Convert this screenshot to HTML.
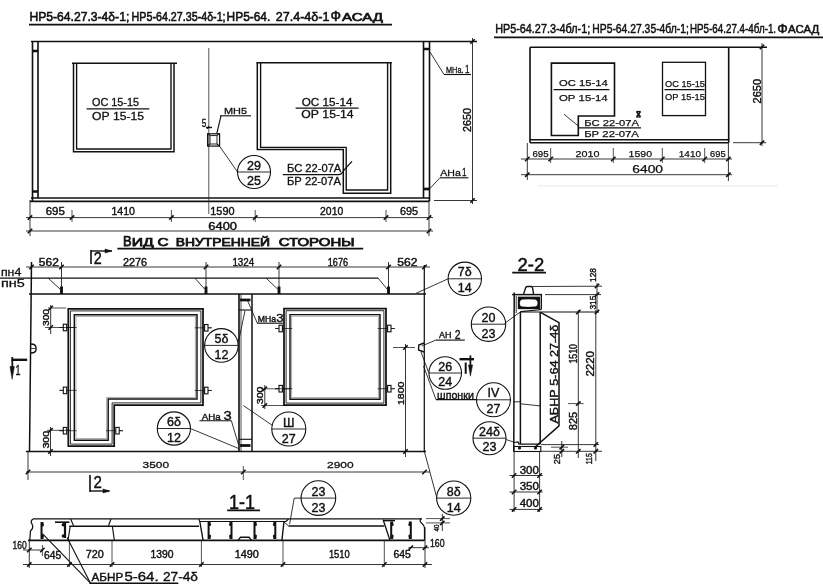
<!DOCTYPE html><html><head><meta charset="utf-8"><style>
html,body{margin:0;padding:0;background:#fff;}
svg{display:block;will-change:transform;}
text{font-family:"Liberation Sans",sans-serif;fill:#111;stroke:#111;stroke-width:0.4px;}
</style></head><body>
<svg width="823" height="588" viewBox="0 0 823 588">
<rect width="823" height="588" fill="#fff"/>
<text x="29.4" y="21.3" font-size="13.6" text-anchor="start" textLength="99.9" lengthAdjust="spacingAndGlyphs" style="stroke-width:0.6px">НР5-64.27.3-4δ-1;</text>
<text x="131.6" y="21.3" font-size="13.6" text-anchor="start" textLength="94.0" lengthAdjust="spacingAndGlyphs" style="stroke-width:0.6px">НР5-64.27.35-4δ-1;</text>
<text x="226.6" y="21.3" font-size="13.6" text-anchor="start" textLength="43.70000000000002" lengthAdjust="spacingAndGlyphs" style="stroke-width:0.6px">НР5-64.</text>
<text x="275.8" y="21.3" font-size="13.6" text-anchor="start" textLength="53.599999999999966" lengthAdjust="spacingAndGlyphs" style="stroke-width:0.6px">27.4-4δ-1</text>
<text x="330.5" y="21.3" font-size="14" text-anchor="start" textLength="10.5" lengthAdjust="spacingAndGlyphs" style="stroke-width:0.6px">Ф</text>
<text x="342" y="21.3" font-size="10.5" text-anchor="start" textLength="41" lengthAdjust="spacingAndGlyphs" style="stroke-width:0.6px">АСАД</text>
<line x1="29" y1="24.6" x2="392" y2="24.6" stroke="#111" stroke-width="1.75"/>
<line x1="31" y1="41.5" x2="477" y2="41.5" stroke="#111" stroke-width="1.5"/>
<line x1="32.5" y1="41.5" x2="32.5" y2="201.4" stroke="#111" stroke-width="1.62"/>
<line x1="38" y1="41.5" x2="38" y2="198" stroke="#111" stroke-width="1.62"/>
<line x1="32.5" y1="51" x2="38" y2="51" stroke="#111" stroke-width="2.5"/>
<line x1="32.5" y1="191.5" x2="38" y2="191.5" stroke="#111" stroke-width="2.5"/>
<line x1="423.5" y1="41.5" x2="423.5" y2="198" stroke="#111" stroke-width="1.62"/>
<line x1="429.5" y1="41.5" x2="429.5" y2="201.4" stroke="#111" stroke-width="1.62"/>
<line x1="423.5" y1="49" x2="429.5" y2="49" stroke="#111" stroke-width="2.5"/>
<line x1="423.5" y1="189" x2="429.5" y2="189" stroke="#111" stroke-width="2.75"/>
<line x1="31" y1="198" x2="429" y2="198" stroke="#111" stroke-width="1.5"/>
<line x1="30" y1="201.4" x2="429" y2="201.4" stroke="#111" stroke-width="1.62"/>
<line x1="434" y1="200.5" x2="477" y2="200.5" stroke="#111" stroke-width="0.84"/>
<line x1="72" y1="63.3" x2="177" y2="63.3" stroke="#111" stroke-width="1.5"/>
<path d="M73.5,63.3 L73.5,151.7 L174,151.7 L174,63.3" stroke="#111" stroke-width="1.5" fill="none"/>
<path d="M76.6,63.3 L76.6,149 L171,149 L171,63.3" stroke="#111" stroke-width="1.38" fill="none"/>
<text x="92" y="105.6" font-size="10.4" text-anchor="start" textLength="47" lengthAdjust="spacingAndGlyphs" style="stroke-width:0.3px">ОС 15-15</text>
<line x1="86.6" y1="108.8" x2="149.3" y2="108.8" stroke="#111" stroke-width="1.25"/>
<text x="92" y="119.5" font-size="10.4" text-anchor="start" textLength="52" lengthAdjust="spacingAndGlyphs" style="stroke-width:0.3px">ОР 15-15</text>
<line x1="256.4" y1="62.7" x2="391.8" y2="62.7" stroke="#111" stroke-width="1.5"/>
<path d="M257.3,62.7 L257.3,149.6 L343.3,149.6 L343.3,193.3 L390.7,193.3 L390.7,62.7" stroke="#111" stroke-width="1.5" fill="none"/>
<path d="M260.6,62.7 L260.6,147.4 L346.2,147.4 L346.2,190 L387.6,190 L387.6,62.7" stroke="#111" stroke-width="1.38" fill="none"/>
<text x="301.8" y="106.3" font-size="10.4" text-anchor="start" textLength="50.6" lengthAdjust="spacingAndGlyphs" style="stroke-width:0.3px">ОС 15-14</text>
<line x1="295.6" y1="108.2" x2="358.6" y2="108.2" stroke="#111" stroke-width="1.25"/>
<text x="301.3" y="118.2" font-size="10.4" text-anchor="start" textLength="52.3" lengthAdjust="spacingAndGlyphs" style="stroke-width:0.3px">ОР 15-14</text>
<text x="287" y="171.5" font-size="10.4" text-anchor="start" textLength="54.3" lengthAdjust="spacingAndGlyphs" style="stroke-width:0.3px">БС 22-07А</text>
<path d="M282.8,174.7 L338.5,174.7 Q342,174.5 344,170 L352,161.4" stroke="#111" stroke-width="1.25" fill="none"/>
<text x="287" y="184.5" font-size="10.4" text-anchor="start" textLength="54" lengthAdjust="spacingAndGlyphs" style="stroke-width:0.3px">БР 22-07А</text>
<line x1="208.8" y1="48" x2="208.8" y2="214" stroke="#333" stroke-width="0.84"/>
<rect x="207.6" y="133.8" width="12" height="12.3" stroke="#111" stroke-width="1.2" fill="none"/>
<rect x="210" y="135.6" width="7" height="8.4" stroke="#111" stroke-width="0.9" fill="none"/>
<line x1="207.6" y1="133.8" x2="210" y2="135.3" stroke="#111" stroke-width="1.12"/>
<line x1="219.6" y1="133.8" x2="217" y2="135.3" stroke="#111" stroke-width="1.12"/>
<line x1="207.6" y1="146.1" x2="210" y2="144" stroke="#111" stroke-width="1.12"/>
<line x1="219.6" y1="146.1" x2="217" y2="144" stroke="#111" stroke-width="1.12"/>
<text x="201.8" y="127" font-size="11.5" text-anchor="start" textLength="4.6" lengthAdjust="spacingAndGlyphs">5</text>
<line x1="206" y1="127.5" x2="212" y2="127.5" stroke="#111" stroke-width="1.38"/>
<line x1="207" y1="129" x2="209" y2="126" stroke="#111" stroke-width="1.12"/>
<text x="224" y="114.3" font-size="9.5" text-anchor="start" textLength="23" lengthAdjust="spacingAndGlyphs" style="stroke-width:0.3px">МН5</text>
<line x1="220" y1="115.8" x2="251" y2="115.8" stroke="#111" stroke-width="1.12"/>
<line x1="221" y1="115.8" x2="216.8" y2="133.5" stroke="#111" stroke-width="1.12"/>
<circle cx="254" cy="172" r="16.5" stroke="#111" stroke-width="1.1" fill="none"/>
<line x1="237.5" y1="172" x2="270.5" y2="172" stroke="#111" stroke-width="0.89"/>
<text x="254" y="169.5" font-size="12.5" text-anchor="middle">29</text>
<text x="254" y="185.0" font-size="12.5" text-anchor="middle">25</text>
<line x1="219.8" y1="146.5" x2="237.5" y2="172" stroke="#111" stroke-width="0.84"/>
<text x="446" y="73" font-size="8.6" text-anchor="start" textLength="17.5" lengthAdjust="spacingAndGlyphs" style="stroke-width:0.3px">МНа.</text>
<text x="465" y="73" font-size="11.5" text-anchor="start" textLength="4.5" lengthAdjust="spacingAndGlyphs" style="stroke-width:0.3px">1</text>
<line x1="444" y1="74.5" x2="471" y2="74.5" stroke="#111" stroke-width="1.12"/>
<line x1="430" y1="52" x2="444" y2="74.5" stroke="#111" stroke-width="0.84"/>
<text x="440.3" y="175.6" font-size="9.3" text-anchor="start" textLength="20.5" lengthAdjust="spacingAndGlyphs" style="stroke-width:0.3px">АНа</text>
<text x="462" y="175.6" font-size="11.5" text-anchor="start" textLength="4.5" lengthAdjust="spacingAndGlyphs" style="stroke-width:0.3px">1</text>
<line x1="439.9" y1="177.8" x2="468.5" y2="177.8" stroke="#111" stroke-width="1.12"/>
<line x1="428.5" y1="190" x2="439.9" y2="177.8" stroke="#111" stroke-width="0.84"/>
<line x1="472.5" y1="38" x2="472.5" y2="204" stroke="#111" stroke-width="0.84"/>
<line x1="470.3" y1="43.7" x2="474.7" y2="39.3" stroke="#111" stroke-width="1.62"/>
<line x1="470.3" y1="202.7" x2="474.7" y2="198.3" stroke="#111" stroke-width="1.62"/>
<text transform="translate(471,132) rotate(-90)" font-size="10" textLength="24" lengthAdjust="spacingAndGlyphs">2650</text>
<line x1="26" y1="217.6" x2="433" y2="217.6" stroke="#111" stroke-width="0.84"/>
<line x1="26" y1="231" x2="433" y2="231" stroke="#111" stroke-width="0.84"/>
<line x1="30" y1="200" x2="30" y2="236" stroke="#111" stroke-width="0.84"/>
<line x1="429" y1="200" x2="429" y2="236" stroke="#111" stroke-width="0.84"/>
<line x1="72" y1="210" x2="72" y2="222" stroke="#111" stroke-width="0.73"/>
<line x1="171.4" y1="210" x2="171.4" y2="222" stroke="#111" stroke-width="0.73"/>
<line x1="255.2" y1="210" x2="255.2" y2="222" stroke="#111" stroke-width="0.73"/>
<line x1="386" y1="210" x2="386" y2="222" stroke="#111" stroke-width="0.73"/>
<line x1="27.8" y1="219.79999999999998" x2="32.2" y2="215.4" stroke="#111" stroke-width="1.62"/>
<line x1="69.8" y1="219.79999999999998" x2="74.2" y2="215.4" stroke="#111" stroke-width="1.62"/>
<line x1="169.20000000000002" y1="219.79999999999998" x2="173.6" y2="215.4" stroke="#111" stroke-width="1.62"/>
<line x1="253.0" y1="219.79999999999998" x2="257.4" y2="215.4" stroke="#111" stroke-width="1.62"/>
<line x1="383.8" y1="219.79999999999998" x2="388.2" y2="215.4" stroke="#111" stroke-width="1.62"/>
<line x1="426.8" y1="219.79999999999998" x2="431.2" y2="215.4" stroke="#111" stroke-width="1.62"/>
<line x1="27.8" y1="233.2" x2="32.2" y2="228.8" stroke="#111" stroke-width="1.62"/>
<line x1="426.8" y1="233.2" x2="431.2" y2="228.8" stroke="#111" stroke-width="1.62"/>
<text x="45.7" y="214.9" font-size="10.8" text-anchor="start" textLength="19.099999999999994" lengthAdjust="spacingAndGlyphs">695</text>
<text x="111.5" y="214.9" font-size="10.8" text-anchor="start" textLength="23.5" lengthAdjust="spacingAndGlyphs">1410</text>
<text x="210.3" y="214.9" font-size="10.8" text-anchor="start" textLength="24.299999999999983" lengthAdjust="spacingAndGlyphs">1590</text>
<text x="320.1" y="214.9" font-size="10.8" text-anchor="start" textLength="23.099999999999966" lengthAdjust="spacingAndGlyphs">2010</text>
<text x="400" y="214.9" font-size="10.8" text-anchor="start" textLength="18" lengthAdjust="spacingAndGlyphs">695</text>
<text x="208.3" y="230.2" font-size="10.2" text-anchor="start" textLength="28.7" lengthAdjust="spacingAndGlyphs">6400</text>
<text x="495.2" y="32.6" font-size="13" text-anchor="start" textLength="95.00000000000006" lengthAdjust="spacingAndGlyphs" style="stroke-width:0.5px">НР5-64.27.3-4бл-1;</text>
<text x="592.3" y="32.6" font-size="13" text-anchor="start" textLength="96.60000000000002" lengthAdjust="spacingAndGlyphs" style="stroke-width:0.5px">НР5-64.27.35-4бл-1;</text>
<text x="690" y="32.6" font-size="13" text-anchor="start" textLength="86.10000000000002" lengthAdjust="spacingAndGlyphs" style="stroke-width:0.5px">НР5-64.27.4-4бл-1.</text>
<text x="777.2" y="32.6" font-size="13.5" text-anchor="start" textLength="10.5" lengthAdjust="spacingAndGlyphs" style="stroke-width:0.5px">Ф</text>
<text x="788" y="32.6" font-size="10.2" text-anchor="start" textLength="31.2" lengthAdjust="spacingAndGlyphs" style="stroke-width:0.5px">АСАД</text>
<line x1="494" y1="37.4" x2="823" y2="37.4" stroke="#111" stroke-width="1.75"/>
<line x1="530" y1="47.3" x2="767" y2="47.3" stroke="#111" stroke-width="1.5"/>
<line x1="530" y1="47.3" x2="530" y2="142.7" stroke="#111" stroke-width="1.62"/>
<line x1="728.7" y1="47" x2="728.7" y2="142.7" stroke="#111" stroke-width="1.62"/>
<line x1="530" y1="139.8" x2="728.7" y2="139.8" stroke="#111" stroke-width="1.38"/>
<line x1="530" y1="142.7" x2="728.7" y2="142.7" stroke="#111" stroke-width="1.62"/>
<line x1="733" y1="142.7" x2="766" y2="142.7" stroke="#111" stroke-width="0.84"/>
<path d="M551.4,63.1 L614.5,63.1 L614.5,116 L578.3,116 L578.3,135.5 L551.4,135.5 Z" stroke="#111" stroke-width="1.62" fill="none"/>
<text x="559" y="86.4" font-size="9.3" text-anchor="start" textLength="48.7" lengthAdjust="spacingAndGlyphs" style="stroke-width:0.25px">ОС 15-14</text>
<line x1="553.6" y1="89.5" x2="609.4" y2="89.5" stroke="#111" stroke-width="1.25"/>
<text x="559" y="100.9" font-size="9.3" text-anchor="start" textLength="48.7" lengthAdjust="spacingAndGlyphs" style="stroke-width:0.25px">ОР 15-14</text>
<text x="584.2" y="126" font-size="9.3" text-anchor="start" textLength="54.7" lengthAdjust="spacingAndGlyphs" style="stroke-width:0.25px">БС 22-07А</text>
<line x1="578.3" y1="127.8" x2="641" y2="127.8" stroke="#111" stroke-width="1.25"/>
<text x="584.2" y="137" font-size="9.3" text-anchor="start" textLength="54.7" lengthAdjust="spacingAndGlyphs" style="stroke-width:0.25px">БР 22-07А</text>
<line x1="564" y1="114.2" x2="578.3" y2="126" stroke="#111" stroke-width="0.84"/>
<line x1="636.5" y1="111.5" x2="640.5" y2="117" stroke="#111" stroke-width="1.5"/>
<line x1="640.5" y1="111.5" x2="636.5" y2="117" stroke="#111" stroke-width="1.5"/>
<line x1="636.5" y1="111.5" x2="640.5" y2="111.5" stroke="#111" stroke-width="1.25"/>
<line x1="636.5" y1="117" x2="640.5" y2="117" stroke="#111" stroke-width="1.25"/>
<rect x="662.5" y="62.3" width="43" height="53.3" stroke="#111" stroke-width="1.3" fill="none"/>
<text x="665" y="86.7" font-size="9.3" text-anchor="start" textLength="40" lengthAdjust="spacingAndGlyphs" style="stroke-width:0.25px">ОС 15-15</text>
<line x1="664.5" y1="89.6" x2="704.5" y2="89.6" stroke="#111" stroke-width="1.25"/>
<text x="665" y="100" font-size="9.3" text-anchor="start" textLength="40" lengthAdjust="spacingAndGlyphs" style="stroke-width:0.25px">ОР 15-15</text>
<line x1="762" y1="43" x2="762" y2="146" stroke="#111" stroke-width="0.84"/>
<line x1="759.8" y1="49.2" x2="764.2" y2="44.8" stroke="#111" stroke-width="1.62"/>
<line x1="759.8" y1="144.89999999999998" x2="764.2" y2="140.5" stroke="#111" stroke-width="1.62"/>
<text transform="translate(760.5,103.4) rotate(-90)" font-size="10" textLength="24.4" lengthAdjust="spacingAndGlyphs">2650</text>
<line x1="521" y1="159" x2="732" y2="159" stroke="#111" stroke-width="0.84"/>
<line x1="521" y1="174.7" x2="732" y2="174.7" stroke="#111" stroke-width="0.84"/>
<line x1="527.3" y1="143" x2="527.3" y2="180" stroke="#111" stroke-width="0.84"/>
<line x1="728.4" y1="143" x2="728.4" y2="181" stroke="#111" stroke-width="0.84"/>
<line x1="550.7" y1="148" x2="550.7" y2="163" stroke="#111" stroke-width="0.73"/>
<line x1="613.3" y1="148" x2="613.3" y2="163" stroke="#111" stroke-width="0.73"/>
<line x1="662.3" y1="148" x2="662.3" y2="163" stroke="#111" stroke-width="0.73"/>
<line x1="704.7" y1="148" x2="704.7" y2="163" stroke="#111" stroke-width="0.73"/>
<line x1="525.0999999999999" y1="161.2" x2="529.5" y2="156.8" stroke="#111" stroke-width="1.62"/>
<line x1="548.5" y1="161.2" x2="552.9000000000001" y2="156.8" stroke="#111" stroke-width="1.62"/>
<line x1="611.0999999999999" y1="161.2" x2="615.5" y2="156.8" stroke="#111" stroke-width="1.62"/>
<line x1="660.0999999999999" y1="161.2" x2="664.5" y2="156.8" stroke="#111" stroke-width="1.62"/>
<line x1="702.5" y1="161.2" x2="706.9000000000001" y2="156.8" stroke="#111" stroke-width="1.62"/>
<line x1="726.1999999999999" y1="161.2" x2="730.6" y2="156.8" stroke="#111" stroke-width="1.62"/>
<line x1="525.0999999999999" y1="176.89999999999998" x2="529.5" y2="172.5" stroke="#111" stroke-width="1.62"/>
<line x1="726.1999999999999" y1="176.89999999999998" x2="730.6" y2="172.5" stroke="#111" stroke-width="1.62"/>
<text x="532.4" y="157" font-size="9.6" text-anchor="start" textLength="16.200000000000045" lengthAdjust="spacingAndGlyphs" style="stroke-width:0.25px">695</text>
<text x="575.5" y="157" font-size="9.6" text-anchor="start" textLength="24.0" lengthAdjust="spacingAndGlyphs" style="stroke-width:0.25px">2010</text>
<text x="628.6" y="157" font-size="9.6" text-anchor="start" textLength="23.399999999999977" lengthAdjust="spacingAndGlyphs" style="stroke-width:0.25px">1590</text>
<text x="678.8" y="157" font-size="9.6" text-anchor="start" textLength="22.200000000000045" lengthAdjust="spacingAndGlyphs" style="stroke-width:0.25px">1410</text>
<text x="710" y="157" font-size="9.6" text-anchor="start" textLength="15.600000000000023" lengthAdjust="spacingAndGlyphs" style="stroke-width:0.25px">695</text>
<text x="632.3" y="173.3" font-size="10.2" text-anchor="start" textLength="30.7" lengthAdjust="spacingAndGlyphs" style="stroke-width:0.25px">6400</text>
<line x1="538" y1="186" x2="778" y2="186" stroke="#e4e4e4" stroke-width="0.84"/>
<text x="122.9" y="245.5" font-size="15" text-anchor="start" textLength="8.6" lengthAdjust="spacingAndGlyphs" style="stroke-width:0.75px">В</text>
<text x="131.8" y="245.5" font-size="11.2" text-anchor="start" textLength="21.9" lengthAdjust="spacingAndGlyphs" style="stroke-width:0.75px">ИД</text>
<text x="157.6" y="245.5" font-size="11.2" text-anchor="start" textLength="11.1" lengthAdjust="spacingAndGlyphs" style="stroke-width:0.75px">С</text>
<text x="175.8" y="245.5" font-size="11.2" text-anchor="start" textLength="94.2" lengthAdjust="spacingAndGlyphs" style="stroke-width:0.75px">ВНУТРЕННЕЙ</text>
<text x="278.7" y="245.5" font-size="11.2" text-anchor="start" textLength="75.8" lengthAdjust="spacingAndGlyphs" style="stroke-width:0.75px">СТОРОНЫ</text>
<line x1="117.4" y1="248.5" x2="363.2" y2="248.5" stroke="#111" stroke-width="1.75"/>
<line x1="91" y1="250" x2="91" y2="264" stroke="#111" stroke-width="1.62"/>
<line x1="91" y1="251" x2="112" y2="251" stroke="#111" stroke-width="1.38"/>
<path d="M112,251 L105,249 L105,253 Z" stroke="#111" stroke-width="0.53" fill="#111"/>
<text x="93.8" y="264" font-size="17" text-anchor="start" textLength="8" lengthAdjust="spacingAndGlyphs">2</text>
<line x1="26" y1="267" x2="430" y2="267" stroke="#111" stroke-width="0.84"/>
<line x1="29.3" y1="269.2" x2="33.7" y2="264.8" stroke="#111" stroke-width="1.62"/>
<line x1="59.3" y1="269.2" x2="63.7" y2="264.8" stroke="#111" stroke-width="1.62"/>
<line x1="203.8" y1="269.2" x2="208.2" y2="264.8" stroke="#111" stroke-width="1.62"/>
<line x1="276.8" y1="269.2" x2="281.2" y2="264.8" stroke="#111" stroke-width="1.62"/>
<line x1="386.3" y1="269.2" x2="390.7" y2="264.8" stroke="#111" stroke-width="1.62"/>
<line x1="422.3" y1="269.2" x2="426.7" y2="264.8" stroke="#111" stroke-width="1.62"/>
<line x1="61.5" y1="262" x2="61.5" y2="292" stroke="#111" stroke-width="0.84"/>
<line x1="206" y1="262" x2="206" y2="292" stroke="#111" stroke-width="0.84"/>
<line x1="279" y1="262" x2="279" y2="292" stroke="#111" stroke-width="0.84"/>
<line x1="388.5" y1="262" x2="388.5" y2="292" stroke="#111" stroke-width="0.84"/>
<text x="38.8" y="265.5" font-size="10" text-anchor="start" textLength="20.0" lengthAdjust="spacingAndGlyphs">562</text>
<text x="123" y="265.5" font-size="10" text-anchor="start" textLength="24" lengthAdjust="spacingAndGlyphs">2276</text>
<text x="232.4" y="265.5" font-size="10" text-anchor="start" textLength="21.900000000000006" lengthAdjust="spacingAndGlyphs">1324</text>
<text x="327.8" y="265.5" font-size="10" text-anchor="start" textLength="20.19999999999999" lengthAdjust="spacingAndGlyphs">1676</text>
<text x="397.2" y="265.5" font-size="10" text-anchor="start" textLength="20.19999999999999" lengthAdjust="spacingAndGlyphs">562</text>
<text x="0.9" y="276.3" font-size="11.5" text-anchor="start" textLength="20.4" lengthAdjust="spacingAndGlyphs" style="stroke-width:0.3px">пн4</text>
<text x="0.9" y="286.9" font-size="11.5" text-anchor="start" textLength="23.8" lengthAdjust="spacingAndGlyphs" style="stroke-width:0.3px">пн5</text>
<line x1="0" y1="278.1" x2="378" y2="278.1" stroke="#111" stroke-width="1.38"/>
<line x1="48" y1="278" x2="60.0" y2="289" stroke="#111" stroke-width="0.84"/>
<line x1="61.5" y1="286.5" x2="61.5" y2="294" stroke="#111" stroke-width="2.88"/>
<line x1="194.8" y1="278" x2="204.5" y2="289" stroke="#111" stroke-width="0.84"/>
<line x1="206" y1="286.5" x2="206" y2="294" stroke="#111" stroke-width="2.88"/>
<line x1="266" y1="278" x2="277.5" y2="289" stroke="#111" stroke-width="0.84"/>
<line x1="279" y1="286.5" x2="279" y2="294" stroke="#111" stroke-width="2.88"/>
<line x1="378" y1="278" x2="387.0" y2="289" stroke="#111" stroke-width="0.84"/>
<line x1="388.5" y1="286.5" x2="388.5" y2="294" stroke="#111" stroke-width="2.88"/>
<line x1="29" y1="294" x2="426" y2="294" stroke="#111" stroke-width="1.62"/>
<line x1="31.5" y1="262" x2="29.5" y2="452" stroke="#111" stroke-width="1.5"/>
<line x1="424.3" y1="265" x2="424.3" y2="452" stroke="#111" stroke-width="1.25"/>
<line x1="26" y1="451.5" x2="426" y2="451.5" stroke="#111" stroke-width="1.62"/>
<path d="M30.8,344 Q36.5,344 36,348.5 Q36.5,353 30.8,353" stroke="#111" stroke-width="1.38" fill="none"/>
<line x1="31" y1="348.5" x2="36" y2="348.5" stroke="#111" stroke-width="0.73"/>
<line x1="11.5" y1="359.8" x2="27.2" y2="359.8" stroke="#111" stroke-width="2.38"/>
<line x1="12.3" y1="357" x2="12.3" y2="368" stroke="#111" stroke-width="1.75"/>
<path d="M12.1,379.3 L10,366.5 L14.4,366.5 Z" stroke="#111" stroke-width="0.53" fill="#111"/>
<text x="15.5" y="375.3" font-size="15" text-anchor="start" textLength="5" lengthAdjust="spacingAndGlyphs">1</text>
<path d="M68.3,308.8 L203.0,308.8 L203.0,405.0 L114.2,405.0 L114.2,446.2 L68.3,446.2 Z" stroke="#111" stroke-width="1.75" fill="none"/>
<path d="M70.4,310.9 L200.9,310.9 L200.9,402.9 L112.1,402.9 L112.1,444.1 L70.4,444.1 Z" stroke="#111" stroke-width="0.89" fill="none"/>
<path d="M74.3,314.8 L197.0,314.8 L197.0,399.0 L108.2,399.0 L108.2,440.2 L74.3,440.2 Z" stroke="#111" stroke-width="1.44" fill="none"/>
<path d="M75.9,316.4 L195.4,316.4 L195.4,397.4 L106.6,397.4 L106.6,438.6 L75.9,438.6 Z" stroke="#777" stroke-width="0.63" fill="none"/>
<path d="M284.0,308.6 L386.0,308.6 L386.0,405.2 L284.0,405.2 Z" stroke="#111" stroke-width="1.75" fill="none"/>
<path d="M286.1,310.7 L383.9,310.7 L383.9,403.1 L286.1,403.1 Z" stroke="#111" stroke-width="0.89" fill="none"/>
<path d="M290.0,314.6 L380.0,314.6 L380.0,399.2 L290.0,399.2 Z" stroke="#111" stroke-width="1.44" fill="none"/>
<path d="M291.6,316.2 L378.4,316.2 L378.4,397.6 L291.6,397.6 Z" stroke="#777" stroke-width="0.63" fill="none"/>
<line x1="59.5" y1="327.5" x2="76.5" y2="327.5" stroke="#111" stroke-width="0.73"/>
<rect x="63.3" y="324.2" width="3.4000000000000057" height="6.6" stroke="#111" stroke-width="1.1" fill="#fff"/>
<line x1="59.5" y1="327.5" x2="63.3" y2="327.5" stroke="#111" stroke-width="0.73"/>
<line x1="59.5" y1="390.4" x2="76.5" y2="390.4" stroke="#111" stroke-width="0.73"/>
<rect x="63.3" y="387.09999999999997" width="3.4000000000000057" height="6.6" stroke="#111" stroke-width="1.1" fill="#fff"/>
<line x1="59.5" y1="390.4" x2="63.3" y2="390.4" stroke="#111" stroke-width="0.73"/>
<line x1="59.5" y1="430.7" x2="76.5" y2="430.7" stroke="#111" stroke-width="0.73"/>
<rect x="63.3" y="427.4" width="3.4000000000000057" height="6.6" stroke="#111" stroke-width="1.1" fill="#fff"/>
<line x1="59.5" y1="430.7" x2="63.3" y2="430.7" stroke="#111" stroke-width="0.73"/>
<line x1="123" y1="430.7" x2="106" y2="430.7" stroke="#111" stroke-width="0.73"/>
<rect x="115.8" y="427.4" width="3.4000000000000057" height="6.6" stroke="#111" stroke-width="1.1" fill="#fff"/>
<line x1="123" y1="430.7" x2="119.2" y2="430.7" stroke="#111" stroke-width="0.73"/>
<line x1="211.8" y1="327.8" x2="194.8" y2="327.8" stroke="#111" stroke-width="0.73"/>
<rect x="204.60000000000002" y="324.5" width="3.3999999999999773" height="6.6" stroke="#111" stroke-width="1.1" fill="#fff"/>
<line x1="211.8" y1="327.8" x2="208.0" y2="327.8" stroke="#111" stroke-width="0.73"/>
<line x1="211.8" y1="390.5" x2="194.8" y2="390.5" stroke="#111" stroke-width="0.73"/>
<rect x="204.60000000000002" y="387.2" width="3.3999999999999773" height="6.6" stroke="#111" stroke-width="1.1" fill="#fff"/>
<line x1="211.8" y1="390.5" x2="208.0" y2="390.5" stroke="#111" stroke-width="0.73"/>
<line x1="275.2" y1="328.5" x2="292.2" y2="328.5" stroke="#111" stroke-width="0.73"/>
<rect x="279.0" y="325.2" width="3.3999999999999773" height="6.6" stroke="#111" stroke-width="1.1" fill="#fff"/>
<line x1="275.2" y1="328.5" x2="279.0" y2="328.5" stroke="#111" stroke-width="0.73"/>
<line x1="394.8" y1="328.5" x2="377.8" y2="328.5" stroke="#111" stroke-width="0.73"/>
<rect x="387.6" y="325.2" width="3.3999999999999773" height="6.6" stroke="#111" stroke-width="1.1" fill="#fff"/>
<line x1="394.8" y1="328.5" x2="391.0" y2="328.5" stroke="#111" stroke-width="0.73"/>
<line x1="275.2" y1="388.7" x2="292.2" y2="388.7" stroke="#111" stroke-width="0.73"/>
<rect x="279.0" y="385.4" width="3.3999999999999773" height="6.6" stroke="#111" stroke-width="1.1" fill="#fff"/>
<line x1="275.2" y1="388.7" x2="279.0" y2="388.7" stroke="#111" stroke-width="0.73"/>
<line x1="394.8" y1="388.7" x2="377.8" y2="388.7" stroke="#111" stroke-width="0.73"/>
<rect x="387.6" y="385.4" width="3.3999999999999773" height="6.6" stroke="#111" stroke-width="1.1" fill="#fff"/>
<line x1="394.8" y1="388.7" x2="391.0" y2="388.7" stroke="#111" stroke-width="0.73"/>
<line x1="50.7" y1="305" x2="50.7" y2="334" stroke="#111" stroke-width="0.84"/>
<line x1="48.5" y1="310.2" x2="52.900000000000006" y2="305.8" stroke="#111" stroke-width="1.62"/>
<line x1="48.5" y1="329.7" x2="52.900000000000006" y2="325.3" stroke="#111" stroke-width="1.62"/>
<line x1="48" y1="308" x2="66" y2="308" stroke="#111" stroke-width="0.73"/>
<line x1="45" y1="327.5" x2="75" y2="327.5" stroke="#111" stroke-width="0.73"/>
<text transform="translate(49,326) rotate(-90)" font-size="9.5" textLength="17" lengthAdjust="spacingAndGlyphs">300</text>
<line x1="50.5" y1="427" x2="50.5" y2="456" stroke="#111" stroke-width="0.84"/>
<line x1="48.3" y1="432.5" x2="52.7" y2="428.1" stroke="#111" stroke-width="1.62"/>
<line x1="48.3" y1="453.7" x2="52.7" y2="449.3" stroke="#111" stroke-width="1.62"/>
<line x1="47" y1="430.3" x2="70" y2="430.3" stroke="#111" stroke-width="0.73"/>
<text transform="translate(48.5,448.6) rotate(-90)" font-size="9.5" textLength="17.9" lengthAdjust="spacingAndGlyphs">300</text>
<line x1="264.8" y1="385" x2="264.8" y2="409" stroke="#111" stroke-width="0.84"/>
<line x1="262.6" y1="391.0" x2="267.0" y2="386.6" stroke="#111" stroke-width="1.62"/>
<line x1="262.6" y1="407.7" x2="267.0" y2="403.3" stroke="#111" stroke-width="1.62"/>
<line x1="261" y1="388.8" x2="290" y2="388.8" stroke="#111" stroke-width="0.73"/>
<line x1="261" y1="405.5" x2="285" y2="405.5" stroke="#111" stroke-width="0.73"/>
<text transform="translate(263.4,404.3) rotate(-90)" font-size="9" textLength="17.9" lengthAdjust="spacingAndGlyphs">300</text>
<line x1="239" y1="294" x2="239" y2="451.5" stroke="#111" stroke-width="1.62"/>
<line x1="241" y1="294" x2="241" y2="451.5" stroke="#111" stroke-width="0.73"/>
<line x1="252" y1="294" x2="252" y2="451.5" stroke="#111" stroke-width="1.5"/>
<line x1="240" y1="300" x2="250.5" y2="300" stroke="#111" stroke-width="2.75"/>
<line x1="239" y1="310" x2="252" y2="310" stroke="#111" stroke-width="1.12"/>
<line x1="239" y1="439.3" x2="252" y2="439.3" stroke="#111" stroke-width="1.12"/>
<line x1="240" y1="445.5" x2="250.5" y2="445.5" stroke="#111" stroke-width="2.75"/>
<line x1="247.5" y1="300.5" x2="257.3" y2="323.2" stroke="#111" stroke-width="0.84"/>
<text x="257.8" y="321.8" font-size="8.5" text-anchor="start" textLength="18.2" lengthAdjust="spacingAndGlyphs">МНа</text>
<text x="276.2" y="321.8" font-size="11.5" text-anchor="start" textLength="7.3" lengthAdjust="spacingAndGlyphs">3</text>
<line x1="257" y1="323.2" x2="283" y2="323.2" stroke="#111" stroke-width="1.12"/>
<circle cx="221.4" cy="345.4" r="16.8" stroke="#111" stroke-width="1.1" fill="none"/>
<line x1="204.6" y1="345.4" x2="238.20000000000002" y2="345.4" stroke="#111" stroke-width="0.89"/>
<text x="221.4" y="342.9" font-size="12.5" text-anchor="middle">5δ</text>
<text x="221.4" y="358.7" font-size="12.5" text-anchor="middle">12</text>
<line x1="238.5" y1="342" x2="245" y2="310.5" stroke="#111" stroke-width="0.84"/>
<text x="201.8" y="419.8" font-size="9.6" text-anchor="start" textLength="18.9" lengthAdjust="spacingAndGlyphs">АНа</text>
<text x="223.4" y="420" font-size="13" text-anchor="start" textLength="8.2" lengthAdjust="spacingAndGlyphs">3</text>
<line x1="199.4" y1="420.8" x2="231.4" y2="420.8" stroke="#111" stroke-width="1.12"/>
<line x1="231.4" y1="420.8" x2="238.6" y2="445" stroke="#111" stroke-width="0.84"/>
<circle cx="173.9" cy="428.5" r="16.6" stroke="#111" stroke-width="1.1" fill="none"/>
<line x1="157.3" y1="428.5" x2="190.5" y2="428.5" stroke="#111" stroke-width="0.89"/>
<text x="173.9" y="426.0" font-size="12.5" text-anchor="middle">6δ</text>
<text x="173.9" y="441.6" font-size="12.5" text-anchor="middle">12</text>
<line x1="190.5" y1="428.5" x2="238.6" y2="448.5" stroke="#111" stroke-width="0.84"/>
<circle cx="288.8" cy="429" r="17" stroke="#111" stroke-width="1.1" fill="none"/>
<line x1="271.8" y1="429" x2="305.8" y2="429" stroke="#111" stroke-width="0.89"/>
<text x="288.8" y="426.5" font-size="12.5" text-anchor="middle">Ш</text>
<text x="288.8" y="442.5" font-size="12.5" text-anchor="middle">27</text>
<line x1="243.3" y1="405.5" x2="272.5" y2="425.5" stroke="#111" stroke-width="0.84"/>
<path d="M424,343 L418.8,345 L418.5,350 L424,352" stroke="#111" stroke-width="1.38" fill="none"/>
<text x="439" y="338.1" font-size="9.5" text-anchor="start" textLength="12.4" lengthAdjust="spacingAndGlyphs">АН</text>
<text x="454.8" y="338.9" font-size="13.5" text-anchor="start" textLength="5.8" lengthAdjust="spacingAndGlyphs">2</text>
<line x1="435.8" y1="340.1" x2="464.8" y2="340.1" stroke="#111" stroke-width="1.12"/>
<line x1="435.8" y1="340.1" x2="421.8" y2="346" stroke="#111" stroke-width="0.84"/>
<line x1="393" y1="347.5" x2="415" y2="347.5" stroke="#111" stroke-width="0.73"/>
<line x1="405.5" y1="344" x2="405.5" y2="457" stroke="#111" stroke-width="0.84"/>
<line x1="403.3" y1="349.7" x2="407.7" y2="345.3" stroke="#111" stroke-width="1.62"/>
<line x1="403.3" y1="453.7" x2="407.7" y2="449.3" stroke="#111" stroke-width="1.62"/>
<text transform="translate(404,405) rotate(-90)" font-size="9.8" textLength="23.5" lengthAdjust="spacingAndGlyphs">1800</text>
<circle cx="464.8" cy="278.8" r="16.7" stroke="#111" stroke-width="1.1" fill="none"/>
<line x1="448.1" y1="278.8" x2="481.5" y2="278.8" stroke="#111" stroke-width="0.89"/>
<text x="464.8" y="276.3" font-size="12.5" text-anchor="middle">7δ</text>
<text x="464.8" y="292.0" font-size="12.5" text-anchor="middle">14</text>
<line x1="448.1" y1="278.8" x2="415.7" y2="293.5" stroke="#111" stroke-width="0.84"/>
<circle cx="445.2" cy="373" r="16.3" stroke="#111" stroke-width="1.1" fill="none"/>
<line x1="428.9" y1="373" x2="461.5" y2="373" stroke="#111" stroke-width="0.89"/>
<text x="445.2" y="370.5" font-size="12.5" text-anchor="middle">26</text>
<text x="445.2" y="385.8" font-size="12.5" text-anchor="middle">24</text>
<line x1="421" y1="352" x2="428.6" y2="372.4" stroke="#111" stroke-width="0.84"/>
<line x1="459.5" y1="359.2" x2="474" y2="359.2" stroke="#111" stroke-width="2.38"/>
<line x1="470.4" y1="355.4" x2="470.4" y2="366" stroke="#111" stroke-width="1.75"/>
<path d="M470.4,376.2 L468.5,364.9 L472.6,364.9 Z" stroke="#111" stroke-width="0.53" fill="#111"/>
<line x1="465.7" y1="362.5" x2="465.7" y2="373.8" stroke="#111" stroke-width="2.0"/>
<text x="437.1" y="398.6" font-size="11" text-anchor="start" textLength="36.8" lengthAdjust="spacingAndGlyphs">шпонки</text>
<line x1="436" y1="399.6" x2="477" y2="399.6" stroke="#111" stroke-width="1.12"/>
<line x1="423.5" y1="366" x2="436" y2="399.6" stroke="#111" stroke-width="0.84"/>
<circle cx="493.5" cy="399.8" r="17" stroke="#111" stroke-width="1.1" fill="none"/>
<line x1="476.5" y1="399.8" x2="510.5" y2="399.8" stroke="#111" stroke-width="0.89"/>
<text x="493.5" y="397.3" font-size="12.5" text-anchor="middle">IV</text>
<text x="493.5" y="413.3" font-size="12.5" text-anchor="middle">27</text>
<circle cx="489.5" cy="438.2" r="16.5" stroke="#111" stroke-width="1.1" fill="none"/>
<line x1="473.0" y1="438.2" x2="506.0" y2="438.2" stroke="#111" stroke-width="0.89"/>
<text x="489.5" y="435.7" font-size="12.5" text-anchor="middle">24δ</text>
<text x="489.5" y="451.2" font-size="12.5" text-anchor="middle">23</text>
<line x1="506" y1="439.5" x2="513" y2="441.8" stroke="#111" stroke-width="0.84"/>
<circle cx="488.5" cy="324.2" r="17.2" stroke="#111" stroke-width="1.1" fill="none"/>
<line x1="471.3" y1="324.2" x2="505.7" y2="324.2" stroke="#111" stroke-width="0.89"/>
<text x="488.5" y="321.7" font-size="12.5" text-anchor="middle">20</text>
<text x="488.5" y="337.9" font-size="12.5" text-anchor="middle">23</text>
<line x1="504.5" y1="323.5" x2="514.6" y2="316" stroke="#111" stroke-width="0.84"/>
<line x1="26" y1="472" x2="430" y2="472" stroke="#111" stroke-width="0.84"/>
<line x1="28" y1="452" x2="28" y2="480" stroke="#111" stroke-width="0.84"/>
<line x1="25.8" y1="474.2" x2="30.2" y2="469.8" stroke="#111" stroke-width="1.62"/>
<line x1="241.10000000000002" y1="474.2" x2="245.5" y2="469.8" stroke="#111" stroke-width="1.62"/>
<line x1="422.3" y1="474.2" x2="426.7" y2="469.8" stroke="#111" stroke-width="1.62"/>
<line x1="243.3" y1="466" x2="243.3" y2="480" stroke="#111" stroke-width="0.73"/>
<text x="142.6" y="467.8" font-size="9.6" text-anchor="start" textLength="26.5" lengthAdjust="spacingAndGlyphs" style="stroke-width:0.3px">3500</text>
<text x="327" y="467.8" font-size="9.6" text-anchor="start" textLength="26.6" lengthAdjust="spacingAndGlyphs" style="stroke-width:0.3px">2900</text>
<line x1="90" y1="475" x2="90" y2="492" stroke="#111" stroke-width="1.62"/>
<line x1="90" y1="491" x2="109" y2="491" stroke="#111" stroke-width="1.38"/>
<path d="M110,491 L103,489 L103,493 Z" stroke="#111" stroke-width="0.53" fill="#111"/>
<text x="93.6" y="487.5" font-size="17" text-anchor="start" textLength="8.4" lengthAdjust="spacingAndGlyphs">2</text>
<text x="517.6" y="271.4" font-size="17.5" text-anchor="start" textLength="26.6" lengthAdjust="spacingAndGlyphs" style="stroke-width:0.5px">2-2</text>
<line x1="512.2" y1="272.7" x2="546" y2="272.7" stroke="#111" stroke-width="1.75"/>
<path d="M523.4,294.6 L525.7,287.5 Q526.2,286.5 527.5,286.5 L531.2,286.5 Q532.3,286.5 532.6,288 L533.6,294.6" stroke="#111" stroke-width="1.38" fill="none"/>
<line x1="532.5" y1="286.5" x2="602" y2="286.2" stroke="#111" stroke-width="0.84"/>
<line x1="512.1" y1="294.6" x2="542.1" y2="294.6" stroke="#111" stroke-width="1.5"/>
<line x1="545" y1="294.6" x2="601" y2="294.6" stroke="#111" stroke-width="0.84"/>
<line x1="541.3" y1="294.6" x2="541.3" y2="309.5" stroke="#111" stroke-width="1.38"/>
<line x1="514.2" y1="292.6" x2="513.8" y2="451" stroke="#111" stroke-width="1.5"/>
<rect x="518.6" y="297.4" width="20.6" height="11" stroke="#111" stroke-width="1.5" fill="#111"/>
<path d="M522,299.6 Q528,298.8 535,299.6 Q537.8,300.2 537.6,303 Q537.8,306 535,306.6 Q528,307.2 522,306.6 Q519.6,306 519.8,303 Q519.6,300.2 522,299.6 Z" stroke="#111" stroke-width="0.11" fill="#fff"/>
<line x1="516.2" y1="296" x2="516.2" y2="313" stroke="#111" stroke-width="0.84"/>
<line x1="520.3" y1="311.6" x2="537.7" y2="310" stroke="#111" stroke-width="1.25"/>
<line x1="537.7" y1="310" x2="541.3" y2="309.3" stroke="#111" stroke-width="1.25"/>
<line x1="520.4" y1="312" x2="599" y2="312" stroke="#111" stroke-width="1.12"/>
<line x1="514.6" y1="316" x2="520.4" y2="312" stroke="#111" stroke-width="0.84"/>
<line x1="520.4" y1="312" x2="520.4" y2="444" stroke="#111" stroke-width="1.5"/>
<line x1="540.2" y1="312" x2="540.2" y2="444" stroke="#111" stroke-width="1.5"/>
<path d="M540.5,312.3 L559,322.7 L559,425.8 L535.4,446.7" stroke="#111" stroke-width="1.5" fill="none"/>
<line x1="513.8" y1="401.8" x2="520.4" y2="401.8" stroke="#111" stroke-width="0.84"/>
<line x1="520.4" y1="403.8" x2="540.2" y2="405.9" stroke="#111" stroke-width="0.84"/>
<path d="M513.8,442.5 L518,442 L519,444.2 L540.2,444.2" stroke="#111" stroke-width="1.25" fill="none"/>
<rect x="513.8" y="446.5" width="27" height="5" stroke="#111" stroke-width="1.1" fill="none"/>
<circle cx="519.5" cy="448" r="1.6" fill="#111"/>
<circle cx="535.5" cy="448" r="1.6" fill="#111"/>
<line x1="541" y1="444.6" x2="599" y2="444.6" stroke="#111" stroke-width="0.84"/>
<line x1="541" y1="451.3" x2="602" y2="451.3" stroke="#111" stroke-width="0.84"/>
<line x1="551" y1="447.2" x2="568" y2="447.2" stroke="#111" stroke-width="0.73"/>
<text transform="translate(557.5,423.6) rotate(-90)" font-size="11.6" textLength="99" lengthAdjust="spacingAndGlyphs">АБНР 5-64 27-4δ</text>
<line x1="597" y1="283" x2="597" y2="313" stroke="#111" stroke-width="0.84"/>
<line x1="594.8" y1="288.2" x2="599.2" y2="283.8" stroke="#111" stroke-width="1.62"/>
<line x1="594.8" y1="296.8" x2="599.2" y2="292.40000000000003" stroke="#111" stroke-width="1.62"/>
<line x1="594.8" y1="314.2" x2="599.2" y2="309.8" stroke="#111" stroke-width="1.62"/>
<text transform="translate(596,282) rotate(-90)" font-size="9.5" textLength="14" lengthAdjust="spacingAndGlyphs">128</text>
<text transform="translate(596,309.6) rotate(-90)" font-size="9.5" textLength="14" lengthAdjust="spacingAndGlyphs">315</text>
<line x1="578.3" y1="310" x2="578.3" y2="458" stroke="#111" stroke-width="0.84"/>
<line x1="576.0999999999999" y1="314.2" x2="580.5" y2="309.8" stroke="#111" stroke-width="1.62"/>
<line x1="576.0999999999999" y1="405.8" x2="580.5" y2="401.40000000000003" stroke="#111" stroke-width="1.62"/>
<line x1="576.0999999999999" y1="453.5" x2="580.5" y2="449.1" stroke="#111" stroke-width="1.62"/>
<line x1="568" y1="403.6" x2="583.6" y2="403.6" stroke="#111" stroke-width="0.73"/>
<text transform="translate(577.3,363.5) rotate(-90)" font-size="10.8" textLength="19.4" lengthAdjust="spacingAndGlyphs">1510</text>
<text transform="translate(576.8,430.2) rotate(-90)" font-size="10" textLength="18.4" lengthAdjust="spacingAndGlyphs">825</text>
<line x1="595.8" y1="310" x2="595.8" y2="461" stroke="#111" stroke-width="0.84"/>
<line x1="593.5999999999999" y1="446.7" x2="598.0" y2="442.3" stroke="#111" stroke-width="1.62"/>
<line x1="593.5999999999999" y1="453.5" x2="598.0" y2="449.1" stroke="#111" stroke-width="1.62"/>
<text transform="translate(594,376.5) rotate(-90)" font-size="10" textLength="25.5" lengthAdjust="spacingAndGlyphs">2220</text>
<line x1="561.8" y1="441" x2="561.8" y2="457" stroke="#111" stroke-width="0.84"/>
<line x1="559.5999999999999" y1="449.4" x2="564.0" y2="445.0" stroke="#111" stroke-width="1.62"/>
<line x1="559.5999999999999" y1="453.5" x2="564.0" y2="449.1" stroke="#111" stroke-width="1.62"/>
<text transform="translate(559.7,464.2) rotate(-90)" font-size="9.5" textLength="10.2" lengthAdjust="spacingAndGlyphs">25</text>
<text transform="translate(591.7,464.2) rotate(-90)" font-size="9" textLength="10.9" lengthAdjust="spacingAndGlyphs">115</text>
<line x1="514.1" y1="451" x2="514.1" y2="512" stroke="#111" stroke-width="0.84"/>
<line x1="539.6" y1="451" x2="539.6" y2="512" stroke="#111" stroke-width="0.84"/>
<line x1="509.5" y1="475.5" x2="542.7" y2="475.5" stroke="#111" stroke-width="0.84"/>
<line x1="511.90000000000003" y1="477.7" x2="516.3000000000001" y2="473.3" stroke="#111" stroke-width="1.62"/>
<line x1="537.4" y1="477.7" x2="541.8000000000001" y2="473.3" stroke="#111" stroke-width="1.62"/>
<line x1="509.5" y1="492" x2="542.7" y2="492" stroke="#111" stroke-width="0.84"/>
<line x1="511.90000000000003" y1="494.2" x2="516.3000000000001" y2="489.8" stroke="#111" stroke-width="1.62"/>
<line x1="537.4" y1="494.2" x2="541.8000000000001" y2="489.8" stroke="#111" stroke-width="1.62"/>
<line x1="509.5" y1="509.4" x2="542.7" y2="509.4" stroke="#111" stroke-width="0.84"/>
<line x1="511.90000000000003" y1="511.59999999999997" x2="516.3000000000001" y2="507.2" stroke="#111" stroke-width="1.62"/>
<line x1="537.4" y1="511.59999999999997" x2="541.8000000000001" y2="507.2" stroke="#111" stroke-width="1.62"/>
<text x="519.7" y="474.2" font-size="10" text-anchor="start" textLength="19.2" lengthAdjust="spacingAndGlyphs">300</text>
<text x="519.7" y="490.3" font-size="10" text-anchor="start" textLength="19.2" lengthAdjust="spacingAndGlyphs">350</text>
<text x="519.7" y="506.8" font-size="10" text-anchor="start" textLength="19.2" lengthAdjust="spacingAndGlyphs">400</text>
<text x="229" y="508.8" font-size="20" text-anchor="start" textLength="26" lengthAdjust="spacingAndGlyphs" style="stroke-width:0.5px">1-1</text>
<line x1="227.2" y1="510.3" x2="260" y2="510.3" stroke="#111" stroke-width="1.75"/>
<path d="M33,519 Q30,521 32,524 Q34,528 30.5,531 L29.7,541" stroke="#111" stroke-width="1.25" fill="none"/>
<line x1="33" y1="518.8" x2="422" y2="518.8" stroke="#111" stroke-width="1.19"/>
<line x1="28" y1="540.4" x2="424.5" y2="540.4" stroke="#111" stroke-width="1.62"/>
<path d="M70.6,519 L73.6,525.8" stroke="#111" stroke-width="1.12" fill="none"/>
<line x1="69.4" y1="526.2" x2="199" y2="526.2" stroke="#111" stroke-width="1.38"/>
<path d="M111,519 L108.5,525.8" stroke="#111" stroke-width="1.12" fill="none"/>
<line x1="70.2" y1="526.2" x2="68" y2="540.4" stroke="#111" stroke-width="1.12"/>
<line x1="112.3" y1="526.2" x2="114.4" y2="540.4" stroke="#111" stroke-width="1.12"/>
<path d="M199.8,521.5 L203.1,540.4" stroke="#111" stroke-width="1.38" fill="none"/>
<path d="M198.7,519 L199.8,521.5 L286,521.5 L288.5,519" stroke="#111" stroke-width="1.12" fill="none"/>
<path d="M284,521.5 L281.9,540.4" stroke="#111" stroke-width="1.38" fill="none"/>
<path d="M238,540.4 L240.5,537.3 L249,537.3 L251.5,540.4" stroke="#111" stroke-width="1.38" fill="none"/>
<line x1="288.5" y1="526" x2="384.3" y2="526" stroke="#111" stroke-width="1.38"/>
<path d="M383.1,519.6 L390,540.4" stroke="#111" stroke-width="1.38" fill="none"/>
<line x1="283.6" y1="521.5" x2="288.5" y2="526" stroke="#111" stroke-width="0.84"/>
<path d="M421,518.5 Q419,521 421.5,523 Q424,525 424.5,528 L424.5,540.4" stroke="#111" stroke-width="1.25" fill="none"/>
<path d="M43.5,523 L41.5,523 L41.5,538 L43.5,538" stroke="#111" stroke-width="2.0" fill="none"/>
<circle cx="42.5" cy="525" r="1.5" fill="#111"/>
<circle cx="42.5" cy="536" r="1.5" fill="#111"/>
<line x1="55" y1="522.2" x2="69.4" y2="522.2" stroke="#111" stroke-width="1.62"/>
<line x1="65" y1="522.2" x2="65" y2="538" stroke="#111" stroke-width="2.25"/>
<circle cx="63.4" cy="524.8" r="1.8" fill="#111"/>
<circle cx="63.4" cy="536" r="1.8" fill="#111"/>
<path d="M210.6,522.6 L208.6,522.6 L208.6,538 L210.6,538" stroke="#111" stroke-width="2.0" fill="none"/>
<circle cx="209.6" cy="524.6" r="1.5" fill="#111"/>
<circle cx="209.6" cy="536" r="1.5" fill="#111"/>
<path d="M229.5,522.6 L231.5,522.6 L231.5,538 L229.5,538" stroke="#111" stroke-width="2.0" fill="none"/>
<circle cx="230.5" cy="524.6" r="1.5" fill="#111"/>
<circle cx="230.5" cy="536" r="1.5" fill="#111"/>
<path d="M256.5,522.6 L254.5,522.6 L254.5,538 L256.5,538" stroke="#111" stroke-width="2.0" fill="none"/>
<circle cx="255.5" cy="524.6" r="1.5" fill="#111"/>
<circle cx="255.5" cy="536" r="1.5" fill="#111"/>
<path d="M273.3,522.6 L275.3,522.6 L275.3,538 L273.3,538" stroke="#111" stroke-width="2.0" fill="none"/>
<circle cx="274.3" cy="524.6" r="1.5" fill="#111"/>
<circle cx="274.3" cy="536" r="1.5" fill="#111"/>
<path d="M393.2,522.6 L391.2,522.6 L391.2,538 L393.2,538" stroke="#111" stroke-width="2.0" fill="none"/>
<circle cx="392.2" cy="524.6" r="1.5" fill="#111"/>
<circle cx="392.2" cy="536" r="1.5" fill="#111"/>
<path d="M408.8,522.6 L410.8,522.6 L410.8,538 L408.8,538" stroke="#111" stroke-width="2.0" fill="none"/>
<circle cx="409.8" cy="524.6" r="1.5" fill="#111"/>
<circle cx="409.8" cy="536" r="1.5" fill="#111"/>
<line x1="383.5" y1="520.6" x2="395" y2="520.6" stroke="#111" stroke-width="1.5"/>
<line x1="23" y1="550" x2="43" y2="550" stroke="#111" stroke-width="0.84"/>
<line x1="27.1" y1="552.2" x2="31.5" y2="547.8" stroke="#111" stroke-width="1.62"/>
<line x1="40.199999999999996" y1="552.2" x2="44.6" y2="547.8" stroke="#111" stroke-width="1.62"/>
<line x1="29.3" y1="541" x2="29.3" y2="568" stroke="#111" stroke-width="0.84"/>
<line x1="42.4" y1="545" x2="42.4" y2="556" stroke="#111" stroke-width="0.73"/>
<text x="12.6" y="549" font-size="11.5" text-anchor="start" textLength="14.2" lengthAdjust="spacingAndGlyphs">160</text>
<text x="44" y="559" font-size="10" text-anchor="start" textLength="17.1" lengthAdjust="spacingAndGlyphs">645</text>
<line x1="23" y1="564.5" x2="432" y2="564.5" stroke="#111" stroke-width="0.84"/>
<line x1="27.1" y1="566.7" x2="31.5" y2="562.3" stroke="#111" stroke-width="1.62"/>
<line x1="67.2" y1="566.7" x2="71.60000000000001" y2="562.3" stroke="#111" stroke-width="1.62"/>
<line x1="109.8" y1="566.7" x2="114.2" y2="562.3" stroke="#111" stroke-width="1.62"/>
<line x1="199.20000000000002" y1="566.7" x2="203.6" y2="562.3" stroke="#111" stroke-width="1.62"/>
<line x1="280.8" y1="566.7" x2="285.2" y2="562.3" stroke="#111" stroke-width="1.62"/>
<line x1="382.1" y1="566.7" x2="386.5" y2="562.3" stroke="#111" stroke-width="1.62"/>
<line x1="422.8" y1="566.7" x2="427.2" y2="562.3" stroke="#111" stroke-width="1.62"/>
<line x1="69.4" y1="541" x2="69.4" y2="567" stroke="#111" stroke-width="0.73"/>
<line x1="112" y1="541" x2="112" y2="567" stroke="#111" stroke-width="0.73"/>
<line x1="201.4" y1="541" x2="201.4" y2="567" stroke="#111" stroke-width="0.73"/>
<line x1="283" y1="541" x2="283" y2="567" stroke="#111" stroke-width="0.73"/>
<line x1="384.3" y1="541" x2="384.3" y2="567" stroke="#111" stroke-width="0.73"/>
<line x1="425" y1="527" x2="425" y2="568" stroke="#111" stroke-width="0.84"/>
<text x="85.8" y="558" font-size="10" text-anchor="start" textLength="18.0" lengthAdjust="spacingAndGlyphs">720</text>
<text x="150.6" y="558" font-size="10" text-anchor="start" textLength="23.0" lengthAdjust="spacingAndGlyphs">1390</text>
<text x="234.8" y="558" font-size="10" text-anchor="start" textLength="24.099999999999966" lengthAdjust="spacingAndGlyphs">1490</text>
<text x="328.9" y="558" font-size="10" text-anchor="start" textLength="20.700000000000045" lengthAdjust="spacingAndGlyphs">1510</text>
<text x="393.5" y="558" font-size="10" text-anchor="start" textLength="17.30000000000001" lengthAdjust="spacingAndGlyphs">645</text>
<text x="430" y="547.4" font-size="11.5" text-anchor="start" textLength="14.6" lengthAdjust="spacingAndGlyphs">160</text>
<line x1="408.5" y1="547.7" x2="429" y2="547.7" stroke="#111" stroke-width="0.84"/>
<line x1="408.6" y1="549.9000000000001" x2="413.0" y2="545.5" stroke="#111" stroke-width="1.62"/>
<line x1="422.8" y1="549.9000000000001" x2="427.2" y2="545.5" stroke="#111" stroke-width="1.62"/>
<line x1="426" y1="518.6" x2="450" y2="518.6" stroke="#111" stroke-width="0.73"/>
<line x1="426" y1="522.9" x2="450" y2="522.9" stroke="#111" stroke-width="0.73"/>
<line x1="442.3" y1="514" x2="442.3" y2="531" stroke="#111" stroke-width="0.84"/>
<line x1="440.1" y1="520.8000000000001" x2="444.5" y2="516.4" stroke="#111" stroke-width="1.62"/>
<line x1="440.1" y1="525.1" x2="444.5" y2="520.6999999999999" stroke="#111" stroke-width="1.62"/>
<text transform="translate(439,531.4) rotate(-90)" font-size="8" textLength="6.8" lengthAdjust="spacingAndGlyphs">40</text>
<circle cx="318.4" cy="498.1" r="17.3" stroke="#111" stroke-width="1.1" fill="none"/>
<line x1="301.09999999999997" y1="498.1" x2="335.7" y2="498.1" stroke="#111" stroke-width="0.89"/>
<text x="318.4" y="495.6" font-size="12.5" text-anchor="middle">23</text>
<text x="318.4" y="511.9" font-size="12.5" text-anchor="middle">23</text>
<line x1="294.2" y1="498.1" x2="301.2" y2="498.1" stroke="#111" stroke-width="0.89"/>
<line x1="294.2" y1="498.1" x2="289.6" y2="524.2" stroke="#111" stroke-width="0.84"/>
<circle cx="453.7" cy="498.1" r="17.1" stroke="#111" stroke-width="1.1" fill="none"/>
<line x1="436.59999999999997" y1="498.1" x2="470.8" y2="498.1" stroke="#111" stroke-width="0.89"/>
<text x="453.7" y="495.6" font-size="12.5" text-anchor="middle">8δ</text>
<text x="453.7" y="511.70000000000005" font-size="12.5" text-anchor="middle">14</text>
<line x1="424.5" y1="452" x2="436.8" y2="497.7" stroke="#111" stroke-width="0.84"/>
<line x1="42.4" y1="533.7" x2="90.5" y2="583.2" stroke="#111" stroke-width="1.12"/>
<line x1="67.1" y1="537.4" x2="90.5" y2="583.2" stroke="#111" stroke-width="1.12"/>
<line x1="89.4" y1="583.2" x2="178.3" y2="583.2" stroke="#111" stroke-width="1.5"/>
<text x="91.6" y="581" font-size="10.2" text-anchor="start" textLength="31.6" lengthAdjust="spacingAndGlyphs">АБНР</text>
<text x="124.4" y="581" font-size="13" text-anchor="start" textLength="34.2" lengthAdjust="spacingAndGlyphs">5-64.</text>
<text x="163" y="581" font-size="13.5" text-anchor="start" textLength="35" lengthAdjust="spacingAndGlyphs">27-4δ</text>
</svg></body></html>
